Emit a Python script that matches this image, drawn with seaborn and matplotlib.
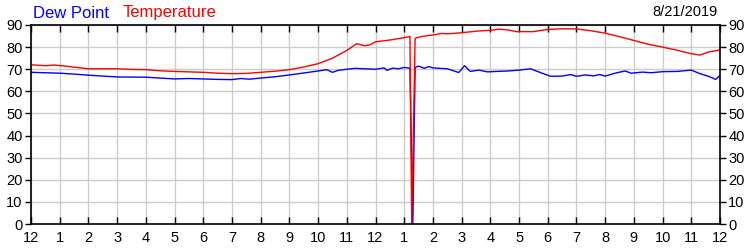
import matplotlib
matplotlib.use("Agg")
import matplotlib.pyplot as plt
import seaborn as sns
import pandas as pd

# ---- data ----
dew_hours = [0, 0.5, 1, 1.5, 2, 2.5, 3, 4, 4.5, 5, 5.5, 6, 6.5, 7, 7.3, 7.6, 8, 8.5, 9, 9.5,
             10, 10.3, 10.5, 10.7, 11, 11.3, 11.6, 12, 12.3, 12.4, 12.6, 12.8, 13.0, 13.2, 13.3,
             13.38, 13.5, 13.7, 13.85, 14.0, 14.5, 14.9, 15.1, 15.3, 15.6, 15.9, 16.2, 16.6, 17.0,
             17.4, 17.8, 18.1, 18.5, 18.8, 19.0, 19.3, 19.6, 19.8, 20.0, 20.4, 20.7, 20.9, 21.3,
             21.6, 22.0, 22.5, 23.0, 23.3, 23.6, 23.85, 24]
dew_values = [68.6, 68.4, 68.2, 67.8, 67.3, 66.9, 66.5, 66.4, 66.0, 65.6, 65.8, 65.6, 65.4, 65.3,
              65.8, 65.5, 66.0, 66.6, 67.4, 68.3, 69.2, 69.8, 68.6, 69.5, 70.0, 70.4, 70.2, 70.0,
              70.6, 69.5, 70.5, 70.2, 70.8, 70.5, 0, 70.8, 71.4, 70.4, 71.2, 70.6, 70.2, 68.5, 71.6,
              69.0, 69.6, 68.8, 69.0, 69.2, 69.6, 70.2, 68.2, 66.8, 66.9, 67.6, 66.8, 67.4, 67.0,
              67.6, 66.9, 68.4, 69.2, 68.2, 68.7, 68.4, 68.9, 69.0, 69.6, 68.0, 66.8, 65.4, 67.2]

temp_hours = [0, 0.5, 0.8, 1.2, 1.6, 2.0, 3.0, 3.5, 4.0, 4.5, 5.0, 5.5, 6.0, 6.5, 7.0, 7.5, 8.0,
              8.5, 9.0, 9.5, 10.0, 10.5, 11.0, 11.35, 11.6, 11.8, 12.0, 12.5, 13.0, 13.2, 13.26,
              13.38, 13.6, 14.0, 14.3, 14.5, 15.0, 15.5, 16.0, 16.3, 16.6, 16.9, 17.5, 18.0, 18.5,
              19.0, 19.5, 20.0, 20.5, 21.0, 21.5, 22.0, 22.5, 23.0, 23.3, 23.6, 24.0]
temp_values = [72.0, 71.6, 71.9, 71.4, 70.8, 70.2, 70.2, 69.9, 69.8, 69.3, 69.0, 68.8, 68.6, 68.2,
               68.0, 68.1, 68.6, 69.1, 69.8, 71.0, 72.5, 75.0, 78.5, 81.6, 80.6, 81.0, 82.4, 83.2,
               84.3, 84.8, 0, 84.0, 84.8, 85.5, 86.2, 86.0, 86.5, 87.2, 87.6, 88.1, 87.8, 87.0,
               87.0, 88.0, 88.3, 88.2, 87.4, 86.3, 84.7, 83.0, 81.3, 80.0, 78.6, 77.0, 76.4, 77.8, 78.7]

x_tick_labels = ["12", "1", "2", "3", "4", "5", "6", "7", "8", "9", "10", "11",
                 "12", "1", "2", "3", "4", "5", "6", "7", "8", "9", "10", "11", "12"]
y_ticks = [0, 10, 20, 30, 40, 50, 60, 70, 80, 90]
date_label = "8/21/2019"

# ---- plot ----
sns.set_style("white")
plt.rcParams["font.family"] = ["Liberation Sans", "DejaVu Sans"]

fig = plt.figure(figsize=(7.5, 2.5), dpi=100)
ax = fig.add_axes([31 / 750, 1 - 224 / 250, 689 / 750, 199 / 250])

dew_df = pd.DataFrame({"hour": dew_hours, "value": dew_values})
temp_df = pd.DataFrame({"hour": temp_hours, "value": temp_values})
sns.lineplot(data=dew_df, x="hour", y="value", color="#0000ff", linewidth=1.0, sort=False, ax=ax)
sns.lineplot(data=temp_df, x="hour", y="value", color="#ff0000", linewidth=1.0, sort=False, ax=ax)

ax.set_xlim(0, 24)
ax.set_ylim(0, 90)
ax.set_xlabel("")
ax.set_ylabel("")
ax.set_xticks(range(25))
ax.set_xticklabels(x_tick_labels)
ax.set_yticks(y_ticks)

ax.grid(True, color="#cccccc", linewidth=1.0)
ax.set_axisbelow(True)
for s in ax.spines.values():
    s.set_visible(True)
    s.set_color("black")
    s.set_linewidth(1.2)

ax.tick_params(axis="x", which="both", direction="in", top=True, bottom=True,
               length=5, width=1, labelsize=10.5, colors="black", pad=5)
ax.tick_params(axis="y", which="both", direction="out", left=True, right=True,
               labelleft=True, labelright=True, length=4, width=1, labelsize=10.5,
               colors="black", pad=2)

fig.text(33 / 750, 1 - 13 / 250, "Dew Point", color="#0000ff", fontsize=12, va="center", ha="left")
fig.text(123 / 750, 1 - 13 / 250, "Temperature", color="#ff0000", fontsize=12, va="center", ha="left")
fig.text(718 / 750, 1 - 12 / 250, date_label, color="black", fontsize=10.5, va="center", ha="right")

fig.savefig("out.png", dpi=100)
